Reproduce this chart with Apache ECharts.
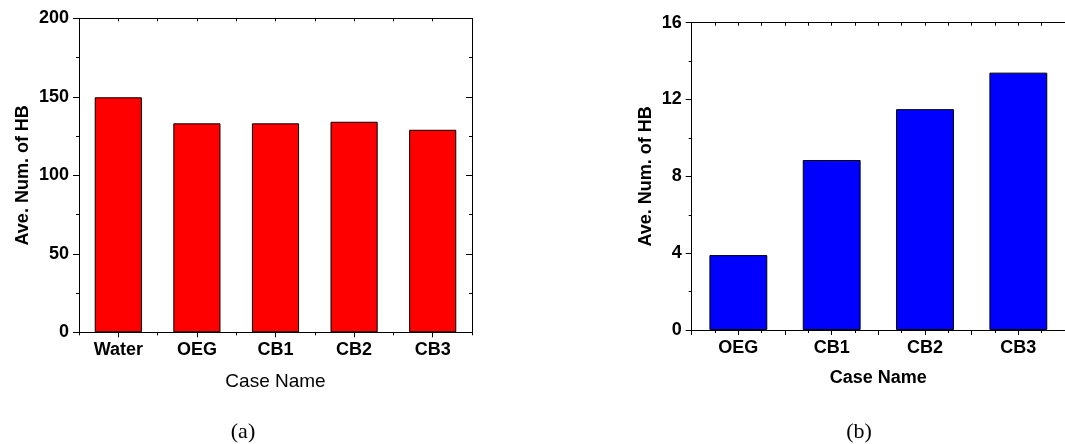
<!DOCTYPE html>
<html>
<head>
<meta charset="utf-8">
<script src="https://cdn.jsdelivr.net/npm/echarts@6/dist/echarts.min.js"></script>
<style>
html,body{margin:0;padding:0;background:#fff;}
#chart{width:1065px;height:444px;}
</style>
</head>
<body>
<div id="chart"></div>
<script>
const leftCategories = ['Water', 'OEG', 'CB1', 'CB2', 'CB3'];
const leftValues = [149.7, 133.1, 133.1, 134.1, 129.0];
const leftYTicks = [0, 50, 100, 150, 200];
const rightCategories = ['OEG', 'CB1', 'CB2', 'CB3'];
const rightValues = [3.9, 8.85, 11.5, 13.4];
const rightYTicks = [0, 4, 8, 12, 16];
const yTitle = 'Ave. Num. of HB';
const xTitle = 'Case Name';
const captions = ['(a)', '(b)'];

const FONT = 'Liberation Sans, Arial, sans-serif';
const SERIF = 'Liberation Serif, Times New Roman, serif';
const lineStyle = { color: '#000', width: 1 };
const hiddenLabel = { show: false };

const chart = echarts.init(document.getElementById('chart'), null, { renderer: 'canvas' });

function yAxisCfg(gridIndex, ticks, position, inside, showLabel, nameShow, nameGap) {
  return {
    type: 'value', gridIndex, position,
    min: ticks[0], max: ticks[ticks.length - 1], interval: ticks[1] - ticks[0],
    axisLine: { show: true, onZero: false, lineStyle },
    axisTick: { show: true, inside, length: 6, lineStyle },
    minorTick: { show: true, splitNumber: 2, length: 3, lineStyle },
    splitLine: { show: false },
    axisLabel: showLabel ? { show: true, margin: 10, color: '#000', fontFamily: FONT, fontWeight: 'bold', fontSize: 18 } : hiddenLabel,
    name: nameShow ? yTitle : '',
    nameLocation: 'middle', nameGap: nameGap,
    nameTextStyle: { color: '#000', fontFamily: FONT, fontWeight: 'bold', fontSize: 18 }
  };
}

const option = {
  backgroundColor: '#fff',
  animation: false,
  grid: [
    { left: 79, right: 593, top: 18.3, bottom: 111.7 },
    { left: 691.7, right: 0, top: 22.7, bottom: 114 }
  ],
  xAxis: [
    {
      type: 'category', gridIndex: 0, data: leftCategories, position: 'bottom',
      axisLine: { show: true, lineStyle, onZero: false },
      axisTick: { show: true, alignWithLabel: true, length: 5, lineStyle },
      axisLabel: { margin: 9, color: '#000', fontFamily: FONT, fontWeight: 'bold', fontSize: 18 },
      name: xTitle, nameLocation: 'middle', nameGap: 40,
      nameTextStyle: { color: '#000', fontFamily: FONT, fontWeight: 'normal', fontSize: 19 }
    },
    {
      type: 'value', gridIndex: 0, position: 'bottom', min: 0, max: leftCategories.length, interval: 1,
      axisLine: { show: false, onZero: false }, axisTick: { show: true, length: 3, lineStyle },
      axisLabel: hiddenLabel, splitLine: { show: false }
    },
    {
      type: 'value', gridIndex: 0, position: 'top', min: 0, max: leftCategories.length * 2, interval: 1,
      axisLine: { show: true, onZero: false, lineStyle }, axisTick: { show: true, inside: true, length: 3, lineStyle },
      axisLabel: hiddenLabel, splitLine: { show: false }
    },
    {
      type: 'category', gridIndex: 1, data: rightCategories, position: 'bottom',
      axisLine: { show: true, lineStyle, onZero: false },
      axisTick: { show: false },
      axisLabel: { margin: 9, color: '#000', fontFamily: FONT, fontWeight: 'bold', fontSize: 18 },
      name: xTitle, nameLocation: 'middle', nameGap: 39,
      nameTextStyle: { color: '#000', fontFamily: FONT, fontWeight: 'bold', fontSize: 18 }
    },
    {
      type: 'value', gridIndex: 1, position: 'bottom', min: 0, max: rightCategories.length * 2, interval: 1,
      axisLine: { show: false, onZero: false }, axisTick: { show: true, length: 5, lineStyle },
      minorTick: { show: true, splitNumber: 2, length: 3, lineStyle },
      axisLabel: hiddenLabel, splitLine: { show: false }
    },
    {
      type: 'value', gridIndex: 1, position: 'top', min: 0, max: rightCategories.length * 4, interval: 1,
      axisLine: { show: true, onZero: false, lineStyle }, axisTick: { show: true, inside: true, length: 3, lineStyle },
      axisLabel: hiddenLabel, splitLine: { show: false }
    }
  ],
  yAxis: [
    yAxisCfg(0, leftYTicks, 'left', false, true, true, 47),
    yAxisCfg(0, leftYTicks, 'right', true, false, false, 0),
    yAxisCfg(1, rightYTicks, 'left', false, true, true, 37)
  ],
  series: [
    {
      type: 'bar', xAxisIndex: 0, yAxisIndex: 0, data: leftValues, barWidth: '60%',
      itemStyle: { color: '#ff0000', borderColor: '#000', borderWidth: 1 }
    },
    {
      type: 'bar', xAxisIndex: 3, yAxisIndex: 2, data: rightValues, barWidth: '62%',
      itemStyle: { color: '#0000ff', borderColor: '#000', borderWidth: 1 }
    }
  ],
  graphic: [
    { type: 'text', x: 243, y: 432.5, style: { text: captions[0], fontFamily: SERIF, fontSize: 22, fill: '#000', align: 'center', verticalAlign: 'middle' } },
    { type: 'text', x: 859, y: 432.5, style: { text: captions[1], fontFamily: SERIF, fontSize: 22, fill: '#000', align: 'center', verticalAlign: 'middle' } }
  ]
};
chart.setOption(option);
</script>
</body>
</html>
